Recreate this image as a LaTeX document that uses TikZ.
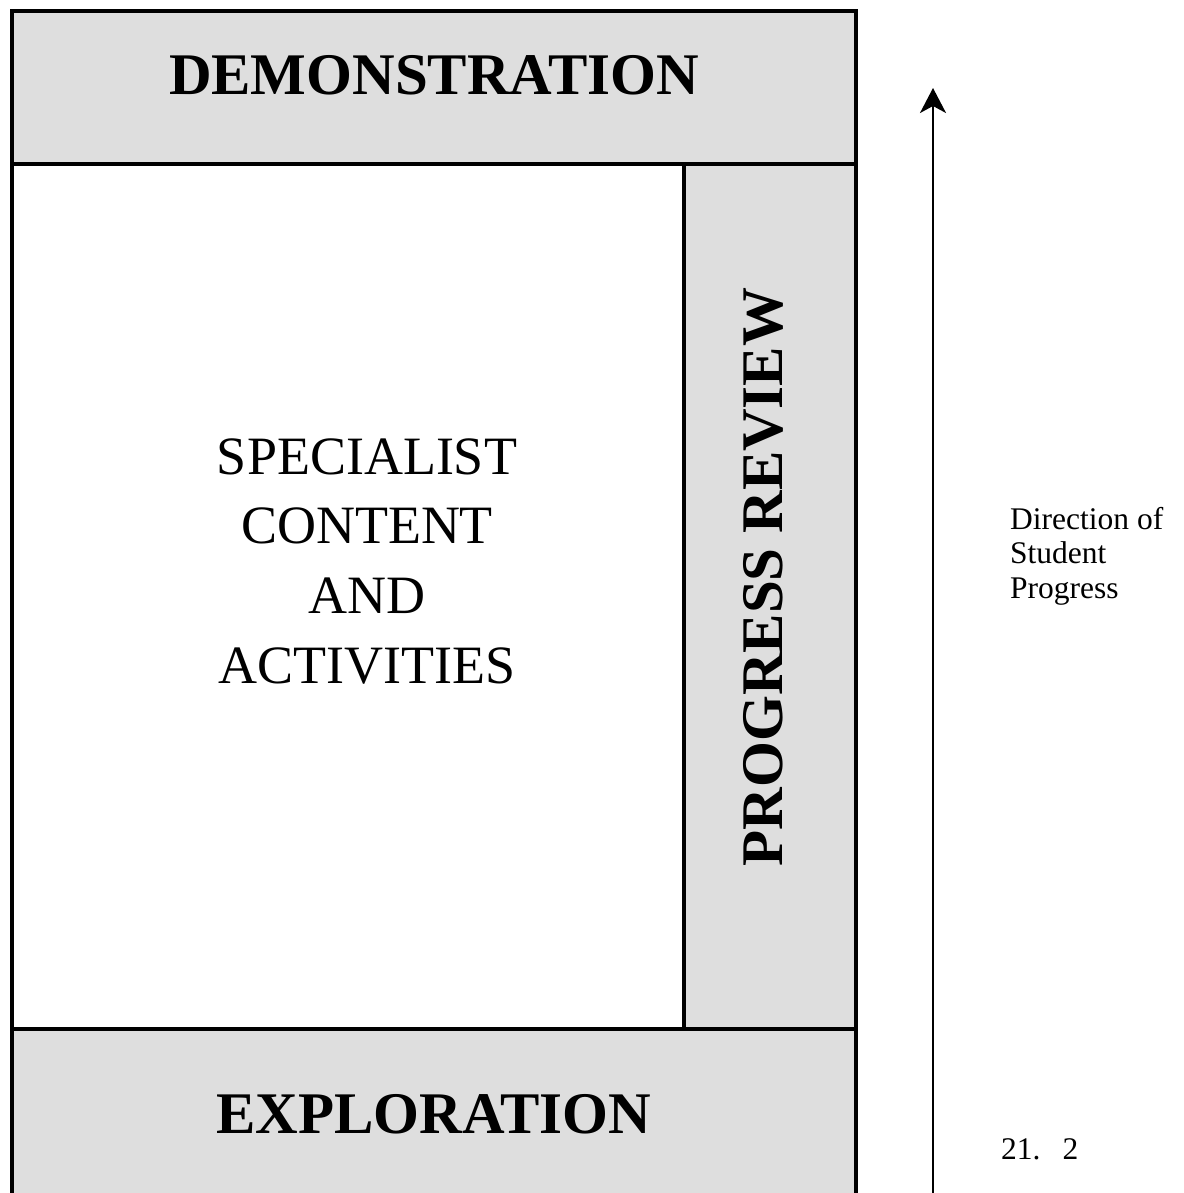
\documentclass[tikz,border=0pt]{standalone}
\usepackage{fontspec}
\setmainfont{Liberation Serif}
\usetikzlibrary{arrows.meta}
\definecolor{bandgray}{RGB}{222,222,222}
\tikzset{
  band/.style={fill=bandgray, draw=none},
  frame/.style={draw=black, line width=3.8pt},
  bigtitle/.style={font=\fontsize{59}{66}\selectfont\bfseries, inner sep=0pt, anchor=base},
  bodytext/.style={font=\fontsize{54}{69.6}\selectfont, inner sep=0pt, align=center},
  sidetext/.style={font=\fontsize{31.5}{34.5}\selectfont, inner sep=0pt, align=left, anchor=base west},
  progarrow/.style={line width=2pt, -{Stealth[length=25pt, width=26pt, inset=7pt]}}
}
\begin{document}
\begin{tikzpicture}[x=1pt, y={(0pt,-1pt)}]
\useasboundingbox (0,0) rectangle (1183,1193);
% shaded regions
\fill[band] (12,11) rectangle (856,164);
\fill[band] (684,164) rectangle (856,1029);
\fill[band] (12,1029) rectangle (856,1215);
% frame lines
\draw[frame] (12,1215) -- (12,11) -- (856,11) -- (856,1215);
\draw[frame] (12,164) -- (856,164);
\draw[frame] (12,1029) -- (856,1029);
\draw[frame] (684,164) -- (684,1029);
% texts
\node[bigtitle] (demo) at (434,95) {DEMONSTRATION};
\node[bigtitle] (explo) at (434,1133) {EXPLORATION};
\node[bigtitle, rotate=90] (review) at (782,577) {PROGRESS REVIEW};
\node[bodytext, anchor=base] (spec) at (367,683) {SPECIALIST\\CONTENT\\AND\\ACTIVITIES};
% arrow
\coordinate (arrowstart) at (933,1215);
\coordinate (arrowend) at (933,88);
\draw[progarrow] (arrowstart) -- (arrowend);
\node[sidetext] (dir) at (1010,598) {Direction of\\Student\\Progress};
\node[sidetext] (num) at (1001,1159) {21.\hspace{22pt}2};
\end{tikzpicture}
\end{document}
